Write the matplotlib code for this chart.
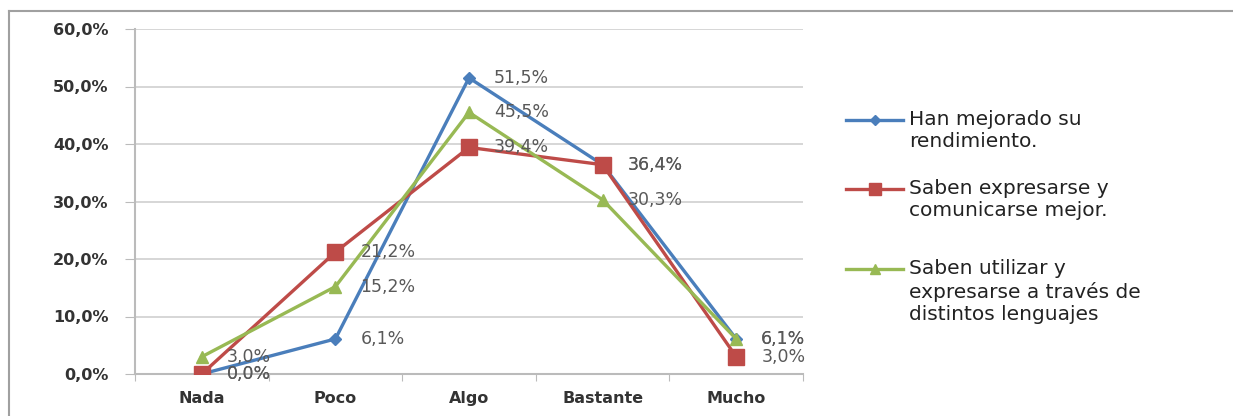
import matplotlib
matplotlib.use("Agg")
import matplotlib.pyplot as plt
from matplotlib.lines import Line2D

categories = ["Nada", "Poco", "Algo", "Bastante", "Mucho"]
rendimiento = [0.0, 6.1, 51.5, 36.4, 6.1]
expresarse = [0.0, 21.2, 39.4, 36.4, 3.0]
lenguajes = [3.0, 15.2, 45.5, 30.3, 6.1]
series_names = ["Han mejorado su\nrendimiento.",
                "Saben expresarse y\ncomunicarse mejor.",
                "Saben utilizar y\nexpresarse a través de\ndistintos lenguajes"]
yticks = [0, 10, 20, 30, 40, 50, 60]

colors = ["#4A7EBB", "#BE4B48", "#98B954"]
markers = ["D", "s", "^"]
msizes = [6, 11, 9]

W, H = 1233, 416
fig = plt.figure(figsize=(W / 100, H / 100), dpi=100)
ax = fig.add_axes([135 / W, 1 - 374 / H, (803 - 135) / W, (374 - 29) / H])

x = list(range(len(categories)))
data = [rendimiento, expresarse, lenguajes]
for vals, c, m, ms in zip(data, colors, markers, msizes):
    ax.plot(x, vals, color=c, lw=2.4, marker=m, ms=ms, mec=c, mfc=c, zorder=3)

# data labels
for vals in [lenguajes, expresarse, rendimiento]:
    for xi, v in zip(x, vals):
        ax.annotate(f"{v:.1f}%".replace(".", ","), (xi, v), xytext=(18, 0),
                    textcoords="offset points", ha="left", va="center",
                    fontsize=12.5, color="#595959", zorder=4)

ax.set_xlim(-0.5, len(categories) - 0.5)
ax.set_ylim(0, 60)
ax.set_yticks(yticks)
ax.set_yticklabels([f"{v:.1f}%".replace(".", ",") for v in yticks],
                   fontsize=11.5, fontweight="bold", color="#333333")
ax.set_xticks([i - 0.5 for i in range(len(categories) + 1)])
ax.set_xticklabels([])
ax.set_xticks(x, minor=True)
ax.set_xticklabels(categories, minor=True, fontsize=11.5, fontweight="bold", color="#333333")
ax.tick_params(axis="x", which="minor", length=0, pad=12)
ax.tick_params(axis="x", which="major", length=5, color="#BBBBBB", direction="out")
ax.tick_params(axis="y", length=7, color="#BBBBBB", direction="out", pad=12)
ax.grid(axis="y", color="#D0D0D0", lw=1.2)
ax.set_axisbelow(True)
for s in ["top", "right"]:
    ax.spines[s].set_visible(False)
for s in ["left", "bottom"]:
    ax.spines[s].set_color("#BBBBBB")
    ax.spines[s].set_linewidth(1.5)

# manual legend
leg_y = [120, 189, 269]
for name, c, m, ms, yy in zip(series_names, colors, markers, msizes, leg_y):
    fy = 1 - yy / H
    fig.add_artist(Line2D([846 / W, 903 / W], [fy, fy], color=c, lw=2.4,
                          transform=fig.transFigure))
    fig.add_artist(Line2D([874.5 / W], [fy], color=c, marker=m, ms=ms * 0.8,
                          mec=c, mfc=c, transform=fig.transFigure))
    fig.text(909 / W, fy + 10 / H, name, ha="left", va="top", fontsize=14.5,
             color="#222222", linespacing=1.22)

# outer frame (top and left)
fig.add_artist(Line2D([9 / W, 1], [1 - 11 / H, 1 - 11 / H], color="#A0A0A0", lw=1.5,
                      transform=fig.transFigure))
fig.add_artist(Line2D([9 / W, 9 / W], [0, 1 - 11 / H], color="#A0A0A0", lw=1.5,
                      transform=fig.transFigure))

fig.savefig("out.png", dpi=100)
